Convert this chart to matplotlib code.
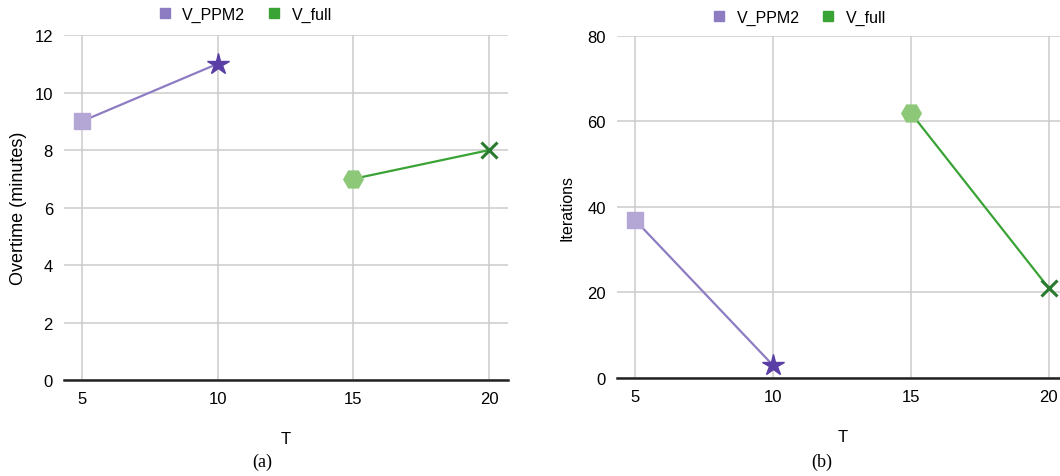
"""
Overtime and iterations vs T for V_PPM2 and V_full
"""
import matplotlib
matplotlib.use('Agg')
import matplotlib.pyplot as plt
from matplotlib.lines import Line2D

plt.rcParams['font.family'] = ['Liberation Sans', 'DejaVu Sans']

# data
t_ppm2 = [5, 10]
t_full = [15, 20]
overtime_ppm2 = [9, 11]
overtime_full = [7, 8]
iter_ppm2 = [37, 3]
iter_full = [62, 21]
x_ticks = [5, 10, 15, 20]

PURPLE_LINE = '#8e7cc3'
PURPLE_LIGHT = '#b4a7d6'
PURPLE_DARK = '#5a3ea6'
GREEN_LINE = '#3aa335'
GREEN_LIGHT = '#8cc878'
GREEN_DARK = '#2a7a30'
GRID = '#cccccc'


def draw_panel(ax, y_ppm2, y_full, ylim, yticks, ylabel, ylabel_kw, legend_xy):
    ax.plot(t_ppm2, y_ppm2, color=PURPLE_LINE, lw=1.6, zorder=3)
    ax.plot(t_full, y_full, color=GREEN_LINE, lw=1.6, zorder=3)
    # start / end markers
    ax.plot(t_ppm2[0], y_ppm2[0], marker='s', ms=11, color=PURPLE_LIGHT,
            mec=PURPLE_LIGHT, zorder=4, clip_on=False)
    ax.plot(t_ppm2[1], y_ppm2[1], marker='*', ms=16, color=PURPLE_DARK,
            mec=PURPLE_DARK, zorder=4, clip_on=False)
    ax.plot(t_full[0], y_full[0], marker='H', ms=14, color=GREEN_LIGHT,
            mec=GREEN_LIGHT, zorder=4, clip_on=False)
    ax.plot(t_full[1], y_full[1], marker='x', ms=11, mew=2.2, color=GREEN_DARK,
            zorder=4, clip_on=False)

    ax.set_xlim(4.35, 20.7)
    ax.set_ylim(*ylim)
    ax.set_xticks(x_ticks)
    ax.set_yticks(yticks)
    ax.grid(True, color=GRID, lw=1.1)
    ax.set_axisbelow(True)
    for s in ['top', 'right', 'left']:
        ax.spines[s].set_visible(False)
    ax.spines['bottom'].set_color('#222222')
    ax.spines['bottom'].set_linewidth(1.8)
    ax.tick_params(length=0, labelsize=12, pad=8)
    ax.set_xlabel('T', fontsize=12, labelpad=18)
    ax.set_ylabel(ylabel, **ylabel_kw)

    handles = [
        Line2D([], [], marker='s', ls='none', ms=7, color=PURPLE_LINE, label='V_PPM2'),
        Line2D([], [], marker='s', ls='none', ms=7, color=GREEN_LINE, label='V_full'),
    ]
    ax.legend(handles=handles, loc='center', bbox_to_anchor=legend_xy,
              bbox_transform=fig.transFigure, ncol=2, frameon=False,
              fontsize=11.5, handlelength=0.6, handletextpad=0.8,
              columnspacing=1.5, borderpad=0)


fig = plt.figure(figsize=(10.6, 4.77), dpi=100)

ax1 = fig.add_axes([0.0604, 0.201, 0.419, 0.7233])
draw_panel(ax1, overtime_ppm2, overtime_full, (0, 12), range(0, 13, 2),
           'Overtime (minutes)', dict(fontsize=13, labelpad=5),
           (0.232, 0.968))

ax2 = fig.add_axes([0.582, 0.2055, 0.4257, 0.717])
draw_panel(ax2, iter_ppm2, iter_full, (0, 80), range(0, 81, 20),
           'Iterations', dict(fontsize=11.5, labelpad=9),
           (0.755, 0.962))

fig.text(0.247, 0.03, '(a)', family='Liberation Serif', fontsize=13,
         ha='center', va='center')
fig.text(0.775, 0.03, '(b)', family='Liberation Serif', fontsize=13,
         ha='center', va='center')

plt.savefig('out.png', dpi=100)
